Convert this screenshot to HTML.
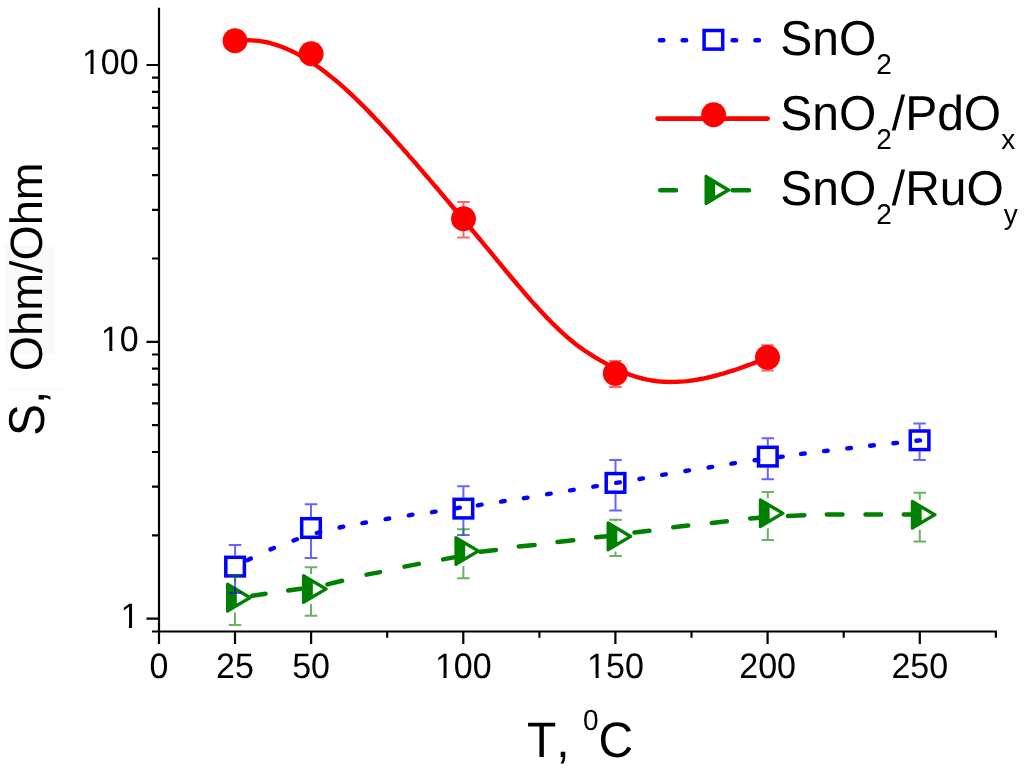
<!DOCTYPE html><html><head><meta charset="utf-8"><style>html,body{margin:0;padding:0;background:#fff;}svg{display:block;}text{font-family:"Liberation Sans",sans-serif;font-kerning:none;text-rendering:geometricPrecision;}svg{will-change:transform;}</style></head><body>
<svg width="1024" height="772" viewBox="0 0 1024 772">
<rect width="1024" height="772" fill="#fff"/>
<rect x="5" y="245" width="50" height="109" fill="#fcfaf9"/>
<rect x="7" y="387" width="57" height="4" fill="#fcfbfa"/>
<path d="M159 7.8V644 M152 631.5H997 M146.5 65.0H159 M146.5 341.9H159 M146.5 618.7H159 M152 535.4H159 M152 486.6H159 M152 452.0H159 M152 425.2H159 M152 403.3H159 M152 384.7H159 M152 368.7H159 M152 354.5H159 M152 258.5H159 M152 209.8H159 M152 175.2H159 M152 148.3H159 M152 126.4H159 M152 107.9H159 M152 91.8H159 M152 77.7H159 M235.0 631.5V644 M311.1 631.5V644 M463.3 631.5V644 M615.4 631.5V644 M767.6 631.5V644 M919.8 631.5V644 M387.2 631.5V637.8 M539.4 631.5V637.8 M691.5 631.5V637.8 M843.7 631.5V637.8 M995.9 631.5V637.8" stroke="#000" stroke-width="2.2" fill="none"/>
<text transform="translate(81.89,74.00) scale(1,1.04)" font-size="34">100</text><path d="M83.59 70.26H90.39V75.20H83.59ZM93.49 70.26H99.91V75.20H93.49Z" fill="#fff"/>
<text transform="translate(100.79,351.00) scale(1,1.04)" font-size="34">10</text><path d="M102.49 347.26H109.29V352.20H102.49ZM112.40 347.26H118.81V352.20H112.40Z" fill="#fff"/>
<text transform="translate(120.40,628.00) scale(1,1.04)" font-size="34">1</text><path d="M122.10 624.26H128.90V629.20H122.10ZM132.00 624.26H138.42V629.20H132.00Z" fill="#fff"/>
<text transform="translate(149.45,678.40) scale(1,1.04)" font-size="34">0</text>
<text transform="translate(216.09,678.40) scale(1,1.04)" font-size="34">25</text>
<text transform="translate(292.18,678.40) scale(1,1.04)" font-size="34">50</text>
<text transform="translate(434.90,678.40) scale(1,1.04)" font-size="34">100</text><path d="M436.60 674.66H443.40V679.60H436.60ZM446.51 674.66H452.92V679.60H446.51Z" fill="#fff"/>
<text transform="translate(587.08,678.40) scale(1,1.04)" font-size="34">150</text><path d="M588.78 674.66H595.59V679.60H588.78ZM598.69 674.66H605.10V679.60H598.69Z" fill="#fff"/>
<text transform="translate(739.26,678.40) scale(1,1.04)" font-size="34">200</text>
<text transform="translate(891.44,678.40) scale(1,1.04)" font-size="34">250</text>
<text transform="translate(527,757) scale(1,1.04)" font-size="48">T, <tspan font-size="28" dy="-26">0</tspan><tspan dy="26">C</tspan></text>
<text transform="translate(44.4,436) rotate(-90) scale(1,1.05)" font-size="48">S,</text>
<text transform="translate(41.5,371.3) rotate(-90)" font-size="45.3">Ohm/Ohm</text>
<polyline points="235.0,41.4 238.4,40.9 241.7,40.6 245.1,40.4 248.4,40.3 251.8,40.4 255.1,40.6 258.5,40.9 261.8,41.4 265.2,42.0 268.5,42.7 271.9,43.6 275.2,44.6 278.6,45.7 281.9,46.9 285.3,48.2 288.6,49.7 292.0,51.2 295.3,52.9 298.7,54.6 302.0,56.5 305.4,58.5 308.7,60.5 312.1,62.7 315.4,65.0 318.8,67.3 322.1,69.7 325.5,72.3 328.8,74.9 332.2,77.6 335.5,80.3 338.9,83.2 342.2,86.1 345.6,89.1 348.9,92.2 352.3,95.3 355.6,98.5 359.0,101.8 362.3,105.1 365.7,108.5 369.0,111.9 372.4,115.4 375.7,118.9 379.1,122.4 382.4,126.1 385.8,129.7 389.1,133.4 392.5,137.1 395.8,140.9 399.2,144.6 402.5,148.4 405.9,152.2 409.2,156.1 412.6,159.9 416.0,163.8 419.3,167.7 422.7,171.6 426.0,175.5 429.4,179.4 432.7,183.3 436.1,187.2 439.4,191.2 442.8,195.1 446.1,199.1 449.5,203.0 452.8,207.0 456.2,211.0 459.5,215.0 462.9,218.9 466.2,222.9 469.6,227.0 472.9,231.0 476.3,235.0 479.6,239.0 483.0,243.1 486.3,247.1 489.7,251.2 493.0,255.2 496.4,259.3 499.7,263.3 503.1,267.4 506.4,271.5 509.8,275.5 513.1,279.5 516.5,283.5 519.8,287.4 523.2,291.4 526.5,295.2 529.9,299.1 533.2,302.9 536.6,306.6 539.9,310.2 543.3,313.8 546.6,317.4 550.0,320.8 553.3,324.2 556.7,327.4 560.0,330.6 563.4,333.7 566.7,336.7 570.1,339.5 573.4,342.3 576.8,344.9 580.1,347.4 583.5,349.8 586.8,352.0 590.2,354.2 593.6,356.3 596.9,358.3 600.3,360.3 603.6,362.2 607.0,364.1 610.3,365.8 613.7,367.6 617.0,369.2 620.4,370.8 623.7,372.2 627.1,373.6 630.4,374.9 633.8,376.0 637.1,377.1 640.5,378.0 643.8,378.9 647.2,379.6 650.5,380.2 653.9,380.7 657.2,381.2 660.6,381.5 663.9,381.7 667.3,381.9 670.6,382.0 674.0,381.9 677.3,381.8 680.7,381.6 684.0,381.4 687.4,381.1 690.7,380.6 694.1,380.2 697.4,379.6 700.8,379.0 704.1,378.4 707.5,377.6 710.8,376.9 714.2,376.0 717.5,375.2 720.9,374.2 724.2,373.3 727.6,372.2 730.9,371.2 734.3,370.1 737.6,369.0 741.0,367.8 744.3,366.6 747.7,365.4 751.0,364.2 754.4,362.9 757.7,361.7 761.1,360.4 764.4,359.1 767.8,357.8" fill="none" stroke="#f00" stroke-width="4.4" stroke-linejoin="round"/>
<circle cx="235.0" cy="40.8" r="12.45" fill="#f00"/>
<circle cx="311.2" cy="53.8" r="12.45" fill="#f00"/>
<circle cx="463.5" cy="218.8" r="12.45" fill="#f00"/>
<circle cx="615.3" cy="373.4" r="12.45" fill="#f00"/>
<circle cx="767.5" cy="357.4" r="12.45" fill="#f00"/>
<path d="M463.5 201.9V237.5M457.2 201.9H469.8M457.2 237.5H469.8" stroke="#f00" stroke-opacity="0.60" stroke-width="2.0" fill="none"/>
<path d="M615.3 361.1V386.9M609.0 361.1H621.6M609.0 386.9H621.6" stroke="#f00" stroke-opacity="0.60" stroke-width="2.0" fill="none"/>
<path d="M767.5 345.2V370.6M761.2 345.2H773.8M761.2 370.6H773.8" stroke="#f00" stroke-opacity="0.60" stroke-width="2.0" fill="none"/>
<path d="M252.2 595.8L265.5 593.8 M288.2 590.4L300.8 588.8 M327.4 584.4L342.1 580.7 M366.5 574.6L380.1 572.1 M404.5 566.6L418.8 563.9 M443.1 559.4L453.8 557.4 M480.2 551.7L495.9 549.9 M518.8 546.4L534.6 545.0 M557.5 542.0L573.3 540.3 M596.1 537.2L606.8 536.2 M634.5 532.5L649.4 530.7 M673.2 527.3L688.1 525.6 M711.8 522.9L726.8 521.2 M750.2 518.5L759.8 517.8 M788.0 515.9L804.4 515.3 M826.8 514.6L842.5 514.6 M865.5 514.6L881.1 514.6 M903.8 514.6L911.8 514.6" stroke="#008000" stroke-width="4.5" stroke-linecap="round" fill="none"/>
<path d="M227.50 584.15L227.50 611.15L250.30 597.65Z" fill="#008000" stroke="#008000" stroke-width="3.0" stroke-linejoin="round"/><path d="M236.80 591.85L236.80 603.45L246.80 597.65Z" fill="#fff"/>
<path d="M303.50 575.50L303.50 602.50L326.30 589.00Z" fill="#008000" stroke="#008000" stroke-width="3.0" stroke-linejoin="round"/><path d="M312.80 583.20L312.80 594.80L322.80 589.00Z" fill="#fff"/>
<path d="M455.90 537.50L455.90 564.50L478.70 551.00Z" fill="#008000" stroke="#008000" stroke-width="3.0" stroke-linejoin="round"/><path d="M465.20 545.20L465.20 556.80L475.20 551.00Z" fill="#fff"/>
<path d="M608.00 522.90L608.00 549.90L630.80 536.40Z" fill="#008000" stroke="#008000" stroke-width="3.0" stroke-linejoin="round"/><path d="M617.30 530.60L617.30 542.20L627.30 536.40Z" fill="#fff"/>
<path d="M760.30 499.70L760.30 526.70L783.10 513.20Z" fill="#008000" stroke="#008000" stroke-width="3.0" stroke-linejoin="round"/><path d="M769.60 507.40L769.60 519.00L779.60 513.20Z" fill="#fff"/>
<path d="M912.30 501.20L912.30 528.20L935.10 514.70Z" fill="#008000" stroke="#008000" stroke-width="3.0" stroke-linejoin="round"/><path d="M921.60 508.90L921.60 520.50L931.60 514.70Z" fill="#fff"/>
<rect x="225.8" y="557.3" width="18.6" height="18.6" fill="none" stroke="#00f" stroke-width="3.5"/>
<rect x="301.7" y="518.7" width="18.6" height="18.6" fill="none" stroke="#00f" stroke-width="3.5"/>
<rect x="454.1" y="499.3" width="18.6" height="18.6" fill="none" stroke="#00f" stroke-width="3.5"/>
<rect x="606.2" y="473.6" width="18.6" height="18.6" fill="none" stroke="#00f" stroke-width="3.5"/>
<rect x="758.5" y="447.3" width="18.6" height="18.6" fill="none" stroke="#00f" stroke-width="3.5"/>
<rect x="910.3" y="431.0" width="18.6" height="18.6" fill="none" stroke="#00f" stroke-width="3.5"/>
<path d="M247.6 560.1L250.8 558.5 M270.5 549.4L273.9 548.0 M293.5 540.5L296.9 539.3 M316.8 533.0L320.2 532.0 M339.6 527.5L343.2 526.7 M362.4 523.1L366.0 522.5 M385.6 519.1L389.2 518.5 M408.8 515.3L412.4 514.7 M432.0 512.2L435.6 511.6 M456.2 508.3L459.8 507.7 M477.9 505.3L481.5 504.7 M501.1 501.6L504.7 501.0 M523.9 498.2L527.5 497.6 M547.1 494.2L550.7 493.6 M570.1 490.4L573.7 489.8 M593.3 486.7L596.9 486.1 M616.2 482.9L619.8 482.3 M639.4 479.0L643.0 478.4 M662.2 474.9L665.8 474.3 M685.4 471.0L689.0 470.4 M708.6 467.5L712.2 466.9 M731.4 463.7L735.0 463.1 M754.6 460.3L758.2 459.9 M779.1 457.0L782.7 456.6 M801.1 453.9L804.7 453.5 M824.1 451.1L827.7 450.7 M847.3 448.4L850.9 448.0 M870.2 445.7L873.8 445.3 M893.4 443.3L897.0 442.9 M916.4 440.8L920.0 440.4" stroke="#00f" stroke-width="4.4" stroke-linecap="round" fill="none"/>
<path d="M235.1 545.0V555.6M235.1 577.6V593.0M228.8 545.0H241.4M228.8 593.0H241.4" stroke="#00f" stroke-opacity="0.60" stroke-width="2.0" fill="none"/>
<path d="M311.0 504.3V517.0M311.0 539.0V557.9M304.7 504.3H317.3M304.7 557.9H317.3" stroke="#00f" stroke-opacity="0.60" stroke-width="2.0" fill="none"/>
<path d="M463.4 486.2V497.6M463.4 519.6V534.9M457.1 486.2H469.7M457.1 534.9H469.7" stroke="#00f" stroke-opacity="0.60" stroke-width="2.0" fill="none"/>
<path d="M615.5 459.9V471.9M615.5 493.9V510.6M609.2 459.9H621.8M609.2 510.6H621.8" stroke="#00f" stroke-opacity="0.60" stroke-width="2.0" fill="none"/>
<path d="M767.8 438.2V445.6M767.8 467.6V479.2M761.5 438.2H774.1M761.5 479.2H774.1" stroke="#00f" stroke-opacity="0.60" stroke-width="2.0" fill="none"/>
<path d="M919.6 423.6V429.3M919.6 451.3V459.9M913.3 423.6H925.9M913.3 459.9H925.9" stroke="#00f" stroke-opacity="0.60" stroke-width="2.0" fill="none"/>
<path d="M235.0 575.7V582.6M235.0 612.6V624.9M228.7 575.7H241.3M228.7 624.9H241.3" stroke="#008000" stroke-opacity="0.60" stroke-width="2.0" fill="none"/>
<path d="M311.0 567.3V574.0M311.0 604.0V615.7M304.7 567.3H317.3M304.7 615.7H317.3" stroke="#008000" stroke-opacity="0.60" stroke-width="2.0" fill="none"/>
<path d="M463.4 529.3V536.0M463.4 566.0V578.3M457.1 529.3H469.7M457.1 578.3H469.7" stroke="#008000" stroke-opacity="0.60" stroke-width="2.0" fill="none"/>
<path d="M615.5 519.7V521.4M615.5 551.4V555.9M609.2 519.7H621.8M609.2 555.9H621.8" stroke="#008000" stroke-opacity="0.60" stroke-width="2.0" fill="none"/>
<path d="M767.8 492.0V498.2M767.8 528.2V540.1M761.5 492.0H774.1M761.5 540.1H774.1" stroke="#008000" stroke-opacity="0.60" stroke-width="2.0" fill="none"/>
<path d="M919.8 492.8V499.7M919.8 529.7V541.5M913.5 492.8H926.1M913.5 541.5H926.1" stroke="#008000" stroke-opacity="0.60" stroke-width="2.0" fill="none"/>
<path d="M659.9 40.2H663.3 M682.7 40.2H686.1 M732.7 40.2H736.1 M755.5 40.2H758.9" stroke="#00f" stroke-width="4.6" stroke-linecap="round" fill="none"/>
<rect x="704.1" y="30.5" width="18.6" height="18.6" fill="none" stroke="#00f" stroke-width="3.5"/>
<path d="M657.6 118.6H767.7" stroke="#f00" stroke-width="4.6" stroke-linecap="round"/>
<circle cx="713.6" cy="114.8" r="12.45" fill="#f00"/>
<path d="M660.3 190.2H676M732.6 190.2H749" stroke="#008000" stroke-width="4.6" stroke-linecap="round"/>
<path d="M706.00 176.20L706.00 203.70L728.90 189.95Z" fill="#008000" stroke="#008000" stroke-width="3.0" stroke-linejoin="round"/><path d="M715.00 184.15L715.00 195.75L725.00 189.95Z" fill="#fff"/>
<text transform="translate(780.2,55.1) scale(1,1.02)" font-size="48">SnO<tspan font-size="28" dy="19">2</tspan></text>
<text transform="translate(780.2,130.1) scale(1,1.02)" font-size="48">SnO<tspan font-size="28" dy="19">2</tspan><tspan dy="-19">/PdO</tspan><tspan font-size="28" dy="19">x</tspan></text>
<text transform="translate(780.2,205.1) scale(1,1.02)" font-size="48">SnO<tspan font-size="28" dy="19">2</tspan><tspan dy="-19">/RuO</tspan><tspan font-size="28" dy="19">y</tspan></text>
</svg></body></html>
